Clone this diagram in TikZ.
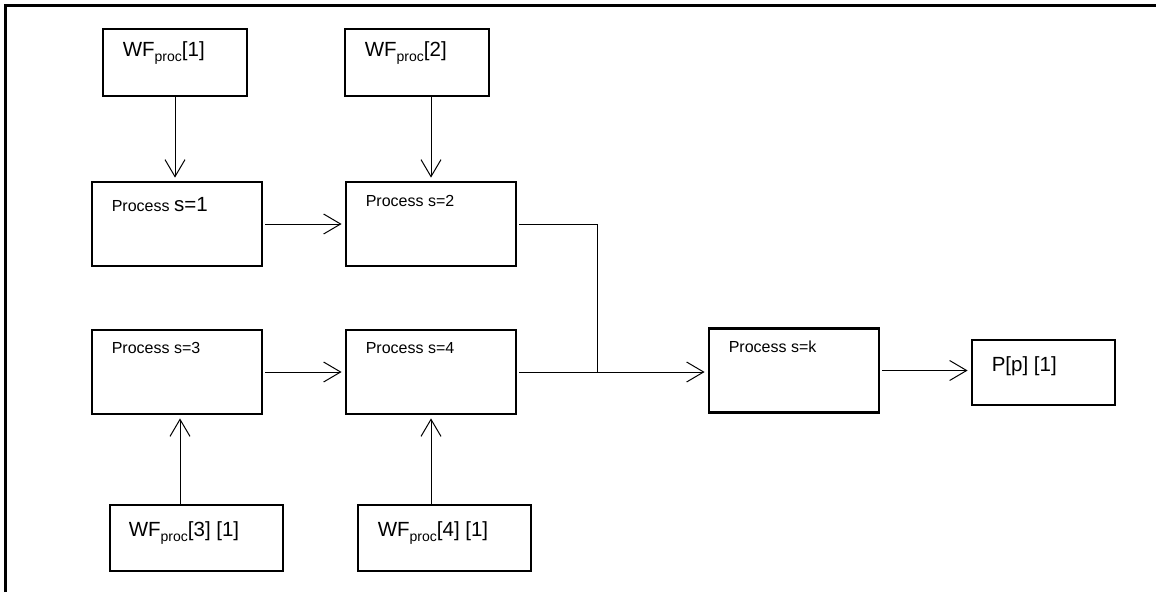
\documentclass[tikz,border=0pt]{standalone}
\usepackage{fontspec}
\setmainfont{Liberation Sans}
\usetikzlibrary{arrows.meta,calc}

% WF with the "proc" subscript
\newcommand\wfp[1]{WF\raisebox{-4.5pt}{\fontsize{14}{14}\selectfont proc}#1}

\begin{document}
\begin{tikzpicture}[x=1pt,y=-1pt,
  box/.style={draw,line width=2.8pt,inner sep=0pt},
  wfbox/.style={box,minimum width=144pt,minimum height=67pt},
  wfwide/.style={box,minimum width=173pt,minimum height=66pt},
  procbox/.style={box,minimum width=170pt,minimum height=84pt},
  outbox/.style={box,minimum width=143pt,minimum height=65pt},
  lbl/.style={anchor=base west,inner sep=0pt,font=\fontsize{16}{18}\selectfont},
  big/.style={anchor=base west,inner sep=0pt,font=\fontsize{20.5}{22}\selectfont},
  wire/.style={line width=1pt},
  arr/.style={wire,-{Straight Barb[length=17pt,width=20pt,line width=1pt]},shorten >=3pt}]

\useasboundingbox (0,0) rectangle (1156,592);

% page frame (top and left edges)
\draw[line width=2.5pt] (5.5,592) -- (5.5,5.5) -- (1156,5.5);

% boxes
\node[wfbox]   (wf1) at (175,62.5) {};
\node[wfbox]   (wf2) at (417,62.5) {};
\node[procbox] (p1)  at (177,224) {};
\node[procbox] (p2)  at (431,224) {};
\node[procbox] (p3)  at (177,372) {};
\node[procbox] (p4)  at (431,372) {};
\node[procbox] (pk)  at (794,370.5) {};
\node[outbox]  (pp)  at (1043.5,372.5) {};
\node[wfwide]  (wf3) at (196.5,538) {};
\node[wfwide]  (wf4) at (444.5,538) {};

% box texts
\node[big] at ($(wf1.north west)+(21,29)$) {\wfp{[1]}};
\node[big] at ($(wf2.north west)+(21,29)$) {\wfp{[2]}};
\node[big] at ($(wf3.north west)+(20,33)$) {\wfp{[3] [1]}};
\node[big] at ($(wf4.north west)+(21,33)$) {\wfp{[4] [1]}};
\node[lbl] at ($(p1.north west)+(21,31)$) {Process {\fontsize{20.5}{22}\selectfont s=1}};
\node[lbl] at ($(p2.north west)+(21,26)$) {Process s=2};
\node[lbl] at ($(p3.north west)+(21,25)$) {Process s=3};
\node[lbl] at ($(p4.north west)+(21,25)$) {Process s=4};
\node[lbl] at ($(pk.north west)+(21,25)$) {Process s=k};
\node[big] at ($(pp.north west)+(21,33)$) {P[p] [1]};

% connectors
\draw[arr] (wf1.south) -- (wf1.south |- p1.north);
\draw[arr] (wf2.south -| p2.north) -- (p2.north);
\draw[arr,shorten <=2pt] (p1.east) -- (p2.west);
\draw[arr,shorten <=2pt] (p3.east) -- (p4.west);
\draw[wire,shorten <=2pt] (p2.east) -- ++(80,0) coordinate (j) -- (j |- p4.east);
\draw[arr,shorten <=2pt] (p4.east) -- (p4.east -| pk.west);
\draw[arr,shorten <=2pt] (pk.east) -- (pk.east -| pp.west);
\coordinate (a3) at ($(p3.south)+(3,0)$);
\draw[arr] (a3 |- wf3.north) -- (a3);
\draw[arr] (wf4.north -| p4.south) -- (p4.south);

\end{tikzpicture}
\end{document}
